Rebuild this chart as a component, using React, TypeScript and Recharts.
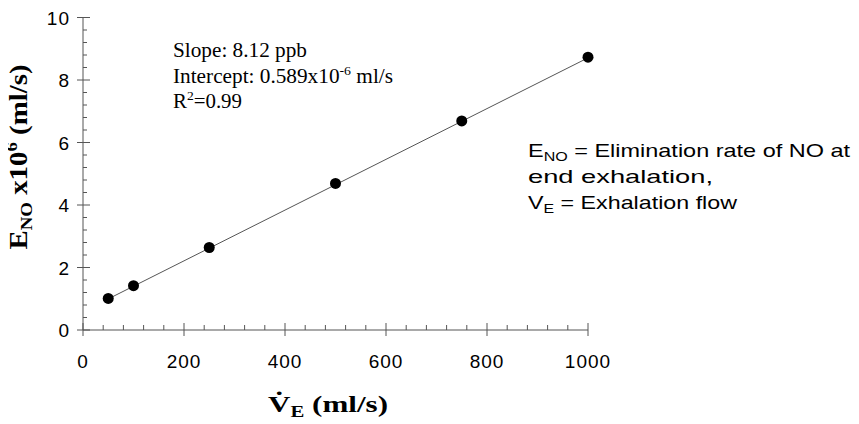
import React from 'react';
import { ScatterChart, Scatter, XAxis, YAxis } from 'recharts';

// measured points (ml/s vs ENO x10^6 ml/s)
const flowPoints = [
    { x: 50, y: 1.01 },
    { x: 100, y: 1.42 },
    { x: 250, y: 2.64 },
    { x: 500, y: 4.69 },
    { x: 750, y: 6.69 },
    { x: 1000, y: 8.73 },
];

// regression line end points
const fitLine = [
    { x: 50, y: 0.995 },
    { x: 1000, y: 8.709 },
];

const xMajor = [0, 200, 400, 600, 800, 1000];
const xMinor = [40, 80, 120, 160, 240, 280, 320, 360, 440, 480, 520, 560, 640, 680, 720, 760, 840, 880, 920, 960];
const yMajor = [0, 2, 4, 6, 8, 10];
const yMinor = [0.4, 0.8, 1.2, 1.6, 2.4, 2.8, 3.2, 3.6, 4.4, 4.8, 5.2, 5.6, 6.4, 6.8, 7.2, 7.6, 8.4, 8.8, 9.2, 9.6];

const AXIS = '#555';
const SANS = '"Liberation Sans", Arial, sans-serif';
const SERIF = '"Liberation Serif", "Times New Roman", serif';

const XTick = (props: any) => {
    const { x, y, payload } = props;
    const major = xMajor.includes(payload.value);
    return (
        <g>
            <line x1={x} x2={x} y1={major ? y - 7 : y - 5} y2={major ? y + 6 : y} stroke={AXIS} />
            {major && (
                <text x={x} y={y + 38} textAnchor="middle" fontFamily={SANS} fontSize={19} letterSpacing={1} fill="#000">
                    {payload.value}
                </text>
            )}
        </g>
    );
};

const YTick = (props: any) => {
    const { x, y, payload } = props;
    const major = yMajor.includes(payload.value);
    return (
        <g>
            <line x1={major ? x - 6 : x} x2={major ? x + 7 : x + 4} y1={y} y2={y} stroke={AXIS} />
            {major && (
                <text x={x - 13} y={y + 7} textAnchor="end" fontFamily={SANS} fontSize={19} letterSpacing={1} fill="#000">
                    {payload.value}
                </text>
            )}
        </g>
    );
};

const NoShape = () => <g />;

const Dot = (props: any) => <circle cx={props.cx} cy={props.cy} r={5.5} fill="#000" />;

export default function App() {
    const allX = [...xMajor, ...xMinor].sort((a, b) => a - b);
    const allY = [...yMajor, ...yMinor].sort((a, b) => a - b);
    return (
        <div style={{ position: 'relative', width: 851, height: 416 }}>
            <ScatterChart width={851} height={416} margin={{ top: 9.5, right: 271, left: 0, bottom: 54 }}>
                <XAxis
                    type="number"
                    dataKey="x"
                    domain={[0, 1000]}
                    ticks={allX}
                    interval={0}
                    tick={<XTick />}
                    tickLine={false}
                    tickSize={0}
                    tickMargin={0}
                    height={40}
                    axisLine={{ stroke: AXIS }}
                />
                <YAxis
                    type="number"
                    dataKey="y"
                    domain={[0, 10]}
                    ticks={allY}
                    interval={0}
                    tick={<YTick />}
                    tickLine={false}
                    tickSize={0}
                    tickMargin={0}
                    width={75}
                    axisLine={{ stroke: AXIS }}
                />
                <Scatter data={fitLine} line={{ stroke: '#555', strokeWidth: 1 }} shape={<NoShape />} isAnimationActive={false} />
                <Scatter data={flowPoints} shape={<Dot />} isAnimationActive={false} />
            </ScatterChart>
            <svg width={859} height={424} style={{ position: 'absolute', left: -8, top: -8, pointerEvents: 'none' }}>
                <g fontFamily={SERIF} fontSize={20} fill="#000">
                    <text x={173} y={57} textLength={134} lengthAdjust="spacingAndGlyphs">Slope: 8.12 ppb</text>
                    <text x={173} y={83} textLength={220} lengthAdjust="spacingAndGlyphs">
                        Intercept: 0.589x10
                        <tspan fontSize={13} dy={-8}>-6</tspan>
                        <tspan dy={8}> ml/s</tspan>
                    </text>
                    <text x={173} y={108} textLength={69} lengthAdjust="spacingAndGlyphs">
                        R<tspan fontSize={13} dy={-8}>2</tspan>
                        <tspan dy={8}>=0.99</tspan>
                    </text>
                </g>
                <g fontFamily={SANS} fontSize={19} fill="#000">
                    <text x={528} y={157} textLength={322} lengthAdjust="spacingAndGlyphs">
                        E<tspan fontSize={13} dy={4}>NO</tspan>
                        <tspan dy={-4}> = Elimination rate of NO at</tspan>
                    </text>
                    <text x={528} y={183} textLength={185} lengthAdjust="spacingAndGlyphs">end exhalation,</text>
                    <text x={528} y={209} textLength={209} lengthAdjust="spacingAndGlyphs">
                        V<tspan fontSize={13} dy={4}>E</tspan>
                        <tspan dy={-4}> = Exhalation flow</tspan>
                    </text>
                </g>
                <text
                    x={27}
                    y={157}
                    transform="rotate(-90, 27, 157)"
                    textAnchor="middle"
                    fontFamily={SERIF}
                    fontWeight="bold"
                    fontSize={26}
                    fill="#000"
                    textLength={185}
                    lengthAdjust="spacingAndGlyphs"
                >
                    E<tspan fontSize={17} dy={5}>NO</tspan>
                    <tspan dy={-5}> x10</tspan>
                    <tspan fontSize={17} dy={-10}>6</tspan>
                    <tspan dy={10}> (ml/s)</tspan>
                </text>
                <text
                    x={268}
                    y={412}
                    fontFamily={SERIF}
                    fontWeight="bold"
                    fontSize={24}
                    fill="#000"
                    textLength={120}
                    lengthAdjust="spacingAndGlyphs"
                >
                    {'V\u0307'}
                    <tspan fontSize={16} dy={5}>E</tspan>
                    <tspan dy={-5}> (ml/s)</tspan>
                </text>
            </svg>
        </div>
    );
}
